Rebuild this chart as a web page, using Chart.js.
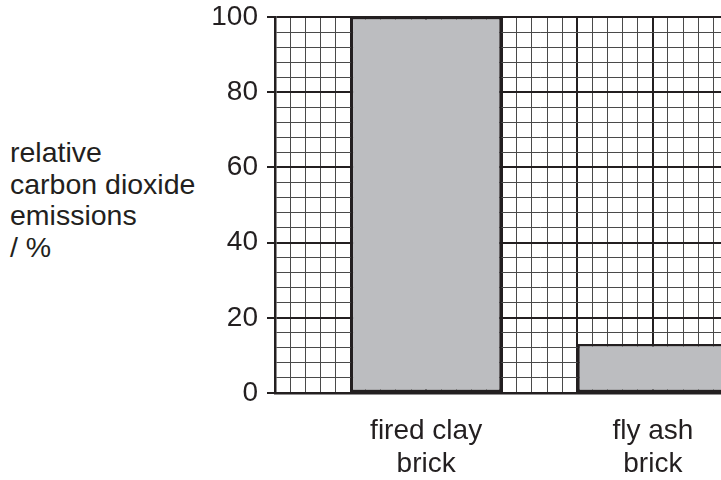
<!DOCTYPE html>
<html>
<head>
<meta charset="utf-8">
<script src="https://cdn.jsdelivr.net/npm/chart.js@4/dist/chart.umd.min.js"></script>
<style>
  body { margin: 0; width: 721px; height: 480px; overflow: hidden; background: #fff; position: relative; }
  #yTitle {
    position: absolute; left: 10px; top: 137px;
    font: 28.5px "Liberation Sans", Arial, sans-serif; line-height: 31.5px; color: #231f20;
  }
  canvas { position: absolute; left: 0; top: 0; }
</style>
</head>
<body>
<div id="yTitle">relative<br>carbon dioxide<br>emissions<br>/ %</div>
<canvas id="brickChart" width="804" height="480"></canvas>
<script>
const categories = [["fired clay", "brick"], ["fly ash", "brick"]];
const emissions = [100, 13];
const yLabels = [0, 20, 40, 60, 80, 100];

// layout in grid cells: gap, bar, gap, bar, gap
const gapCells = 5;
const barCells = 10;
const totalCells = 35;
const barCentre = (i) => gapCells + barCells / 2 + i * (gapCells + barCells);

const ink = "#231f20";
const minorInk = "#4a4a4a";
const font = { family: "'Liberation Sans', Arial, sans-serif", size: 28, lineHeight: 1.18 };

const isMajorX = (ctx) => ctx.tick && ctx.tick.value % 5 === 0;
const isMajorY = (ctx) => ctx.tick && yLabels.includes(ctx.tick.value);

const chartBricks = new Chart(document.getElementById("brickChart"), {
  type: "bar",
  data: {
    datasets: [{
      data: emissions.map((v, i) => ({ x: barCentre(i), y: v })),
      backgroundColor: "#bcbdc0",
      borderColor: ink,
      borderWidth: 2.5,
      borderSkipped: false,
      barPercentage: 1,
      categoryPercentage: barCells / (barCells + gapCells),
    }],
  },
  options: {
    responsive: false,
    animation: false,
    devicePixelRatio: 1,
    layout: { padding: { top: 17 } },
    plugins: { legend: { display: false }, tooltip: { enabled: false } },
    scales: {
      x: {
        type: "linear",
        position: "bottom",
        offset: false,
        min: 0,
        max: totalCells,
        grid: { display: false, offset: false },
        border: { color: ink, width: 2.5 },
        afterBuildTicks: (scale) => {
          scale.ticks = categories.map((c, i) => ({ value: barCentre(i) }));
        },
        afterFit: (scale) => { scale.height = 87; },
        ticks: {
          autoSkip: false,
          maxRotation: 0,
          padding: 14,
          color: ink,
          font: font,
          callback: (value, index) => categories[index],
        },
      },
      xg: {
        type: "linear",
        position: "top",
        offset: false,
        min: 0,
        max: totalCells,
        ticks: { display: false, stepSize: 1 },
        border: { display: false },
        grid: {
          offset: false,
          drawTicks: false,
          color: (ctx) => (isMajorX(ctx) ? ink : minorInk),
          lineWidth: (ctx) => (isMajorX(ctx) ? 2 : 1),
        },
      },
      y: {
        min: 0,
        max: 100,
        afterFit: (scale) => {
          scale.width = 275;
          scale.paddingTop = 0;
          scale.paddingBottom = 0;
        },
        border: { color: ink, width: 2.5 },
        grid: {
          tickLength: 8,
          tickWidth: 2,
          tickColor: (ctx) => (isMajorY(ctx) ? ink : "rgba(0,0,0,0)"),
          color: (ctx) => (isMajorY(ctx) ? ink : minorInk),
          lineWidth: (ctx) => (isMajorY(ctx) ? 2 : 1),
        },
        ticks: {
          stepSize: 4,
          autoSkip: false,
          padding: 9,
          color: ink,
          font: font,
          callback: (value) => (yLabels.includes(value) ? value : ""),
        },
      },
    },
  },
});
</script>
</body>
</html>
